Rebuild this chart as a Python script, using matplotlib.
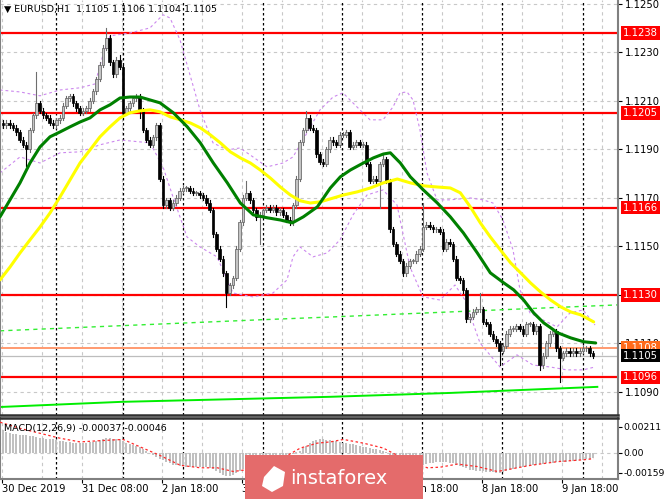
import matplotlib
matplotlib.use("Agg")
import matplotlib.pyplot as plt
from matplotlib.patches import Rectangle, Polygon

# ---------------- data ----------------
title_text = "EURUSD,H1  1.1105 1.1106 1.1104 1.1105"
macd_text = "MACD(12,26,9) -0.00037 -0.00046"

# hourly closes (last 4 digits, price = 1 + v/10000)
close_pips = [
    1200, 1201, 1200, 1199, 1197, 1194, 1192, 1190, 1198, 1204,
    1209, 1206, 1204, 1203, 1201, 1200, 1202, 1203, 1208, 1211,
    1212, 1209, 1207, 1205, 1206, 1207, 1210, 1214, 1219, 1225,
    1232, 1236, 1226, 1221, 1227, 1224, 1205, 1207, 1209, 1211,
    1212, 1206, 1198, 1194, 1192, 1195, 1200, 1178, 1167, 1169,
    1166, 1168, 1170, 1173, 1174, 1174, 1173, 1172, 1172, 1171,
    1170, 1168, 1165, 1155, 1149, 1145, 1139, 1131, 1134, 1137,
    1149, 1160, 1170, 1172, 1169, 1165, 1162, 1163, 1165, 1166,
    1165, 1166, 1164, 1165, 1163, 1161, 1160, 1167, 1178, 1193,
    1198, 1203, 1199, 1198, 1188, 1185, 1184, 1190, 1194, 1193,
    1192, 1196, 1196, 1197, 1191, 1192, 1193, 1192, 1192, 1184,
    1177, 1178, 1177, 1184, 1186, 1177, 1157, 1151, 1147, 1144,
    1139, 1142, 1144, 1144, 1147, 1149, 1158, 1159, 1158, 1157,
    1157, 1156, 1149, 1152, 1151, 1145, 1137, 1136, 1132, 1120,
    1121, 1123, 1124, 1124, 1119, 1118, 1114, 1112, 1110, 1107,
    1109, 1114, 1116, 1116, 1117, 1116, 1114, 1118, 1118, 1115,
    1117, 1101, 1105, 1110, 1114, 1115, 1108, 1104, 1106, 1107,
    1106, 1107, 1106, 1107, 1108, 1108, 1106, 1105,
]
first_open = 1201
high_marks = {10: 1222, 31: 1240, 35: 1229, 73: 1177, 91: 1206, 126: 1168,
              143: 1131, 114: 1188, 161: 1118}
low_marks = {7: 1183, 67: 1125, 77: 1151, 113: 1166, 149: 1101, 167: 1094,
             161: 1099, 41: 1203}

# moving averages / bands read at (bar index, pips)
ma_green = [(-0.9, 1162.2), (2.1, 1169.2), (5.1, 1176.2), (8.1, 1184.4), (11.1, 1191.0),
            (14.1, 1195.2), (17.1, 1197.2), (20.1, 1199.3), (23.1, 1201.3), (26.1, 1203.0),
            (29.1, 1206.3), (32.1, 1208.4), (35.1, 1211.2), (38.1, 1211.6), (41.1, 1211.6),
            (44.1, 1210.4), (47.1, 1209.2), (51.1, 1205.1), (55.3, 1199.3), (59.2, 1192.7),
            (63.1, 1184.4), (67.3, 1176.2), (71.2, 1167.9), (75.1, 1163.0), (79.3, 1161.8),
            (83.2, 1160.9), (86.8, 1159.7), (90.1, 1162.2), (94.3, 1166.3), (98.2, 1174.1),
            (101.2, 1178.7), (104.2, 1181.5), (108.1, 1184.4), (111.1, 1186.5), (114.1, 1188.1),
            (116.2, 1188.6), (119.2, 1184.4), (122.2, 1178.7), (126.1, 1173.3), (130.3, 1167.9),
            (134.2, 1162.2), (138.1, 1155.6), (142.3, 1147.3), (146.2, 1139.1), (150.2, 1135.0),
            (153.2, 1132.1), (156.2, 1127.9), (159.2, 1122.6), (162.2, 1118.5), (166.4, 1114.4),
            (170.3, 1112.3), (174.2, 1110.7), (177.8, 1110.2)]
ma_yellow = [(-0.9, 1136.2), (2.1, 1141.5), (5.1, 1147.3), (8.1, 1152.7), (11.1, 1158.0),
             (14.1, 1163.8), (17.1, 1170.4), (20.1, 1177.4), (23.1, 1184.4), (26.1, 1189.8),
             (29.1, 1195.2), (32.1, 1199.3), (35.1, 1203.0), (38.1, 1205.1), (41.1, 1205.9),
             (44.1, 1206.3), (47.1, 1205.5), (50.2, 1203.4), (53.2, 1202.2), (56.2, 1200.9),
             (59.2, 1198.9), (62.2, 1196.0), (65.2, 1192.7), (68.2, 1189.0), (71.2, 1186.5),
             (74.2, 1184.4), (77.2, 1181.5), (80.2, 1178.2), (83.2, 1174.5), (86.2, 1171.2),
             (89.2, 1168.8), (92.2, 1167.9), (95.2, 1168.4), (98.2, 1169.6), (102.1, 1171.2),
             (106.3, 1172.5), (110.2, 1174.1), (114.1, 1176.2), (118.3, 1177.8), (122.2, 1176.2),
             (126.1, 1175.0), (130.3, 1174.5), (134.2, 1174.1), (137.2, 1172.1), (140.2, 1166.3),
             (143.2, 1159.7), (146.2, 1153.9), (149.2, 1148.6), (152.3, 1143.2), (155.3, 1139.1),
             (158.3, 1134.9), (161.3, 1131.2), (164.3, 1127.9), (167.3, 1125.1), (170.3, 1123.0),
             (173.3, 1121.8), (177.2, 1118.9)]
band_upper = [(-0.9, 1214.5), (5.1, 1213.7), (11.1, 1212.1), (17.1, 1214.5), (23.1, 1215.4),
              (27.6, 1217.0), (30.0, 1229.0), (32.1, 1236.8), (38.1, 1238.0), (44.1, 1240.1),
              (48.0, 1245.5), (50.1, 1244.2), (53.1, 1235.2), (56.1, 1220.7), (59.1, 1206.3),
              (63.0, 1192.7), (67.2, 1189.8), (71.1, 1190.6), (75.0, 1186.9), (79.2, 1182.8),
              (84.0, 1184.4), (87.0, 1186.9), (91.2, 1196.8), (95.1, 1206.3), (99.0, 1211.6),
              (102.0, 1213.3), (106.2, 1207.5), (110.1, 1202.2), (114.0, 1202.2), (117.0, 1207.5),
              (119.1, 1213.3), (121.2, 1213.7), (123.0, 1210.4), (125.1, 1198.0), (127.2, 1180.3),
              (130.2, 1169.2), (134.1, 1169.2), (140.1, 1170.0), (144.0, 1169.2), (147.0, 1167.9),
              (150.0, 1160.9), (153.0, 1148.6), (155.1, 1132.1), (158.1, 1122.6), (162.0, 1119.7),
              (166.2, 1116.8), (170.1, 1122.6), (174.0, 1123.8), (177.6, 1117.6)]
band_lower = [(-0.9, 1180.3), (5.1, 1186.9), (11.1, 1184.4), (17.1, 1188.6), (23.1, 1189.0),
              (29.1, 1191.9), (35.1, 1193.9), (44.1, 1192.7), (48.0, 1182.8), (51.0, 1170.4),
              (55.2, 1153.9), (59.1, 1149.8), (64.2, 1145.7), (69.0, 1130.8), (75.0, 1129.2),
              (81.0, 1130.8), (85.2, 1136.2), (87.0, 1145.7), (89.1, 1149.8), (93.0, 1145.7),
              (97.2, 1147.3), (101.1, 1152.7), (105.0, 1163.0), (109.2, 1171.2), (114.0, 1173.3),
              (118.2, 1167.1), (122.1, 1141.5), (126.0, 1129.2), (131.1, 1127.9), (135.6, 1134.1),
              (138.6, 1127.9), (143.1, 1110.2), (149.1, 1100.3), (154.2, 1105.3), (159.0, 1101.1),
              (164.1, 1100.3), (169.2, 1099.1), (174.0, 1099.1), (177.6, 1100.3)]
ma_long_dashed = [(-0.9, 1115.2), (76.2, 1119.7), (98.2, 1120.9), (134.2, 1123.0), (184.5, 1125.9)]
ma_long_solid = [(-0.9, 1083.8), (35.1, 1085.9), (98.2, 1088.0), (134.2, 1089.6), (178.3, 1092.1)]

levels_red = [1.1238, 1.1205, 1.1166, 1.1130, 1.1096]
level_orange = 1.1108
level_bid = 1.1105
price_ticks = [1.1250, 1.1230, 1.1210, 1.1190, 1.1170, 1.1150, 1.1130, 1.1110, 1.1090]

# MACD histogram (1e-5) per bar
macd_hist = [
    187, 170, 160, 158, 155, 150, 148, 145, 140, 135, 130, 125,
    120, 115, 112, 110, 105, 100, 95, 90, 88, 85, 85, 85,
    85, 85, 88, 90, 95, 105, 115, 120, 118, 112, 112, 110,
    95, 85, 75, 65, 55, 45, 30, 15, 0, -15, -30, -45,
    -60, -75, -85, -95, -100, -105, -108, -110, -112, -112, -110, -110,
    -112, -115, -120, -130, -145, -160, -175, -185, -190, -180, -165, -150,
    -130, -115, -100, -85, -70, -60, -50, -45, -40, -35, -30, -25,
    -20, -15, -10, -5, 5, 20, 40, 60, 80, 95, 105, 110,
    110, 108, 105, 100, 95, 90, 85, 80, 75, 70, 65, 60,
    50, 45, 40, 35, 30, 25, 20, 10, -20, -50, -75, -90,
    -100, -105, -110, -115, -115, -110, -100, -90, -85, -80, -75, -75,
    -75, -75, -78, -85, -95, -105, -115, -125, -135, -140, -145, -148,
    -150, -152, -155, -158, -160, -160, -155, -150, -140, -130, -120, -115,
    -110, -105, -100, -95, -95, -90, -88, -85, -80, -78, -75, -75,
    -72, -70, -68, -65, -62, -60, -55, -50, -45, -37,
]
macd_signal = [(-0.9, 250), (5.1, 200), (11.1, 160), (17.1, 120), (23.1, 90), (29.1, 100),
               (36.0, 110), (41.1, 50), (47.1, -20), (53.2, -100), (59.2, -120), (64.3, -120),
               (69.1, -150), (73.3, -135), (79.3, -70), (85.3, -20), (89.2, 40), (94.3, 80),
               (98.2, 90), (102.1, 110), (108.1, 80), (114.1, 40), (118.3, -20), (123.1, -80),
               (127.3, -120), (131.2, -115), (136.3, -90), (142.3, -110), (148.3, -150),
               (152.3, -130), (158.3, -100), (166.4, -70), (174.2, -55), (177.2, -46)]
macd_ticks = [0.00211, 0.0, -0.00159]
macd_tick_labels = ["0.00211", "0.00", "-0.00159"]

day_separators = [15.9, 36.0, 54.1, 78.1, 101.8, 125.8, 149.8, 173.9]
grid_x = [-0.3 + 12 * k for k in range(16)]
xlabel_pos = [-0.3, 23.7, 47.7, 71.8, 95.8, 119.8, 143.8, 167.8]
xlabels = ["30 Dec 2019", "31 Dec 08:00", "2 Jan 18:00", "3 Jan 18:00",
           "6 Jan 18:00", "7 Jan 18:00", "8 Jan 18:00", "9 Jan 18:00"]

# ---------------- figure ----------------
W, H = 665, 499
fig = plt.figure(figsize=(W / 100, H / 100), dpi=100)
fig.patch.set_facecolor("white")
XL = (-0.9, 184.5)

ax = fig.add_axes([0, 1 - 415 / H, 618 / W, 415 / H])
axm = fig.add_axes([0, 1 - 479 / H, 618 / W, (479 - 418) / H])

def P(v):
    return 1 + v / 10000.0

FS = 7.2
# ---- main panel ----
ax.set_xlim(*XL)
ax.set_ylim(1.10805, 1.12516)
for yv in price_ticks:
    ax.axhline(yv, color="#c8c8c8", lw=0.8, ls=(0, (3, 3)), zorder=0)
for xv in grid_x:
    ax.axvline(xv, color="#c8c8c8", lw=0.8, ls=(0, (3, 3)), zorder=0)
for xv in day_separators:
    ax.axvline(xv, color="#000000", lw=0.9, ls=(0, (2, 2)), zorder=0.5)

for lv in levels_red:
    ax.axhline(lv, color="#ff0000", lw=1.6, zorder=1)
ax.axhline(level_orange, color="#ff9a70", lw=1.4, zorder=1)
ax.axhline(level_bid, color="#bdbdbd", lw=0.9, zorder=1)

def line(pts, **kw):
    ax.plot([p[0] for p in pts], [P(p[1]) for p in pts], **kw)

line(ma_long_dashed, color="#33ee33", lw=1.0, ls=(0, (3, 3)), zorder=2)
line(ma_long_solid, color="#00ee00", lw=1.4, zorder=2)
line(band_upper, color="#cc88ee", lw=0.8, ls=(0, (2.5, 2.5)), zorder=2)
line(band_lower, color="#cc88ee", lw=0.8, ls=(0, (2.5, 2.5)), zorder=2)

# candles
opens = [first_open] + close_pips[:-1]
for i, (o, c) in enumerate(zip(opens, close_pips)):
    hi = high_marks.get(i, max(o, c) + 1)
    lo = low_marks.get(i, min(o, c) - 1)
    bull = c >= o
    col = "#6e6e6e" if bull else "#000000"
    ax.plot([i, i], [P(lo), P(hi)], color=col, lw=0.8, zorder=3)
    bot, top = P(min(o, c)), P(max(o, c))
    h = max(top - bot, 0.00003)
    ax.add_patch(Rectangle((i - 0.38, bot), 0.76, h,
                           facecolor="#c4c4c4" if bull else "#000000",
                           edgecolor="#5a5a5a" if bull else "#000000",
                           lw=0.5, zorder=4))

line(ma_yellow, color="#ffff00", lw=2.2, zorder=5, solid_capstyle="round")
line(ma_green, color="#008000", lw=2.2, zorder=6, solid_capstyle="round")

ax.text(4 / 618, 1 - 9 / 415, "\u25bc " + title_text, transform=ax.transAxes,
        fontsize=6.8, va="center", ha="left", color="#000000", zorder=10)

ax.yaxis.tick_right()
ax.set_yticks(price_ticks)
ax.set_yticklabels(["" if abs(v - 1.1130) < 1e-6 else f"{v:.4f}" for v in price_ticks])
ax.tick_params(axis="y", labelsize=FS, length=3, pad=2, width=0.8)
ax.set_xticks([])
for lv in levels_red:
    ax.text(1.0 + 5 / 618, lv, f"{lv:.4f}", transform=ax.get_yaxis_transform(),
            fontsize=FS, color="white", va="center", ha="left", clip_on=False, zorder=20,
            bbox=dict(boxstyle="square,pad=0.18", fc="#ff0000", ec="none"))
ax.text(1.0 + 5 / 618, level_orange, f"{level_orange:.4f}", transform=ax.get_yaxis_transform(),
        fontsize=FS, color="white", va="center", ha="left", clip_on=False, zorder=20,
        bbox=dict(boxstyle="square,pad=0.18", fc="#ff6a1a", ec="none"))
ax.text(1.0 + 5 / 618, level_bid, f"{level_bid:.4f}", transform=ax.get_yaxis_transform(),
        fontsize=FS, color="white", va="center", ha="left", clip_on=False, zorder=21,
        bbox=dict(boxstyle="square,pad=0.18", fc="#000000", ec="none"))

ax.spines["top"].set_visible(False)
ax.spines["left"].set_color("#808080")
ax.spines["left"].set_linewidth(1.5)
ax.spines["right"].set_color("#808080")
ax.spines["right"].set_linewidth(1.5)
ax.spines["bottom"].set_color("#303030")
ax.spines["bottom"].set_linewidth(1.8)

# ---- MACD panel ----
axm.set_xlim(*XL)
axm.set_ylim(-0.00211, 0.00284)
for xv in grid_x:
    axm.axvline(xv, color="#c8c8c8", lw=0.8, ls=(0, (3, 3)), zorder=0)
for xv in day_separators:
    axm.axvline(xv, color="#000000", lw=0.9, ls=(0, (2, 2)), zorder=0.5)
axm.axhline(0, color="#c8c8c8", lw=0.8, ls=(0, (3, 3)), zorder=0)
axm.bar(range(len(macd_hist)), [v / 1e5 for v in macd_hist], width=0.55,
        color="#c0c0c0", zorder=2)
axm.plot([p[0] for p in macd_signal], [p[1] / 1e5 for p in macd_signal],
         color="#ff2a2a", lw=0.9, ls=(0, (2, 2)), zorder=3)
axm.text(4 / 618, 1 - 10 / 61, macd_text, transform=axm.transAxes, fontsize=6.8,
         va="center", ha="left", zorder=10)
axm.yaxis.tick_right()
axm.set_yticks(macd_ticks)
axm.set_yticklabels(macd_tick_labels)
axm.tick_params(axis="y", labelsize=6.7, length=3, pad=1, width=0.8)
axm.set_xticks(xlabel_pos)
axm.set_xticklabels([])
axm.tick_params(axis="x", length=3, width=0.8)
for s in ["left", "right", "bottom"]:
    axm.spines[s].set_color("#808080")
    axm.spines[s].set_linewidth(1.5)
axm.spines["top"].set_color("#303030")
axm.spines["top"].set_linewidth(1.8)

for xp, lab in zip(xlabel_pos, xlabels):
    px = 3 + 3.333 * xp
    fig.text(px / W, 1 - 489 / H, lab, fontsize=FS, ha="left", va="center")

# ---- watermark ----
fig.patches.append(Rectangle((245 / W, 0), (423 - 245) / W, (499 - 455) / H,
                             transform=fig.transFigure, facecolor="#e46b6b",
                             edgecolor="none", zorder=30))
fig.patches.append(Polygon([(264 / W, 1 - 477 / H), (274 / W, 1 - 466 / H), (285 / W, 1 - 472 / H),
                            (283 / W, 1 - 486 / H), (272 / W, 1 - 492 / H), (262 / W, 1 - 486 / H)],
                           closed=True, transform=fig.transFigure, facecolor="white",
                           edgecolor="none", zorder=31))
fig.text(290 / W, 1 - 479 / H, "instaforex", fontsize=14, color="white",
         ha="left", va="center", zorder=32)

fig.savefig("out.png", dpi=100, facecolor="white")
